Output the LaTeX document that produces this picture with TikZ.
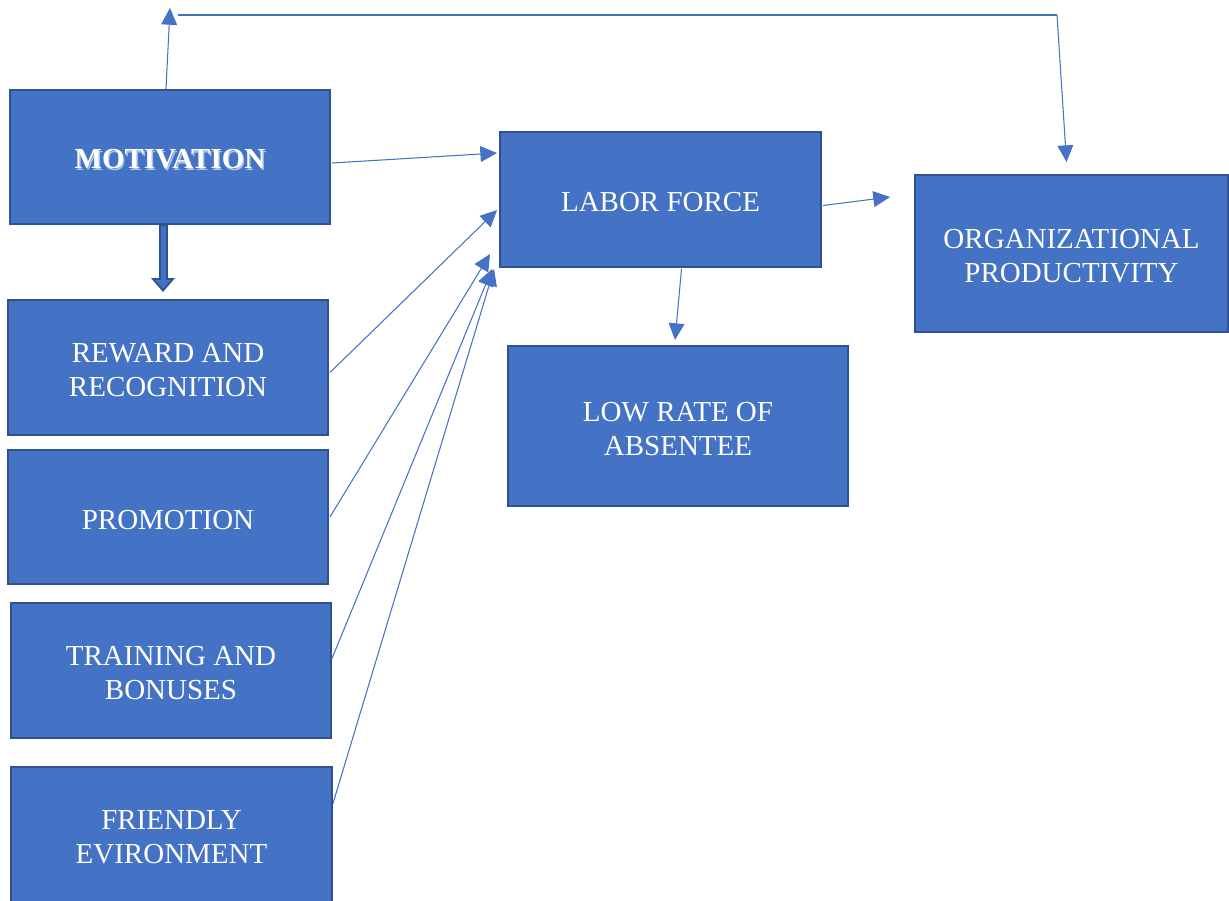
\documentclass[tikz,border=0pt]{standalone}
\usepackage{fontspec}
\setmainfont{Liberation Serif}
\usepackage{xcolor}
\usetikzlibrary{positioning, arrows.meta, calc}

\definecolor{boxfill}{HTML}{4472C4}
\definecolor{boxline}{HTML}{2F528F}
\definecolor{glow}{HTML}{A9C4EB}
\newcommand{\topstrut}{\rule{0pt}{14.3pt}}

\begin{document}
\begin{tikzpicture}[
    x=0.02cm, y=-0.02cm,
    box/.style={draw=boxline, fill=boxfill, line width=0.04cm, rectangle,
                inner sep=0pt, align=center, text=white,
                font=\fontsize{16.5}{19.3}\selectfont},
    arrow/.style={-{Triangle[length=9.5pt, width=9pt]}, boxfill, line width=0.6pt},
    link/.style={boxfill, line width=0.6pt}
]
\clip (0,0) rectangle (1229,900);
\useasboundingbox (0,0) rectangle (1229,900);
% Left column
\node[box, minimum width=6.4cm, minimum height=2.68cm] (motiv) at (170,157)
      {\topstrut\bfseries\rlap{\hspace{0.8pt}\raisebox{-0.8pt}{\color{glow}MOTIVATION}}MOTIVATION};
\node[box, minimum width=6.4cm, minimum height=2.7cm] (reward) at (168,367.5)
      {\topstrut REWARD AND \\ RECOGNITION};
\node[box, minimum width=6.4cm, minimum height=2.68cm] (promo) at (168,517)
      {\topstrut PROMOTION};
\node[box, minimum width=6.4cm, minimum height=2.7cm] (train) at (171,670.5)
      {\topstrut TRAINING AND \\ BONUSES};
\node[box, minimum width=6.42cm, minimum height=2.7cm] (friend) at (171.5,834.5)
      {\topstrut FRIENDLY \\ EVIRONMENT};
% Middle and right
\node[box, minimum width=6.42cm, minimum height=2.7cm] (labor) at (660.5,199.5)
      {\topstrut LABOR FORCE};
\node[box, minimum width=6.8cm, minimum height=3.2cm] (low) at (678,426)
      {\topstrut LOW RATE OF \\ ABSENTEE};
\node[box, minimum width=6.26cm, minimum height=3.14cm] (org) at (1071.5,253.5)
      {\topstrut ORGANIZATIONAL \\ PRODUCTIVITY};
% Feedback line over the top
\coordinate (topL) at (170,8);
\coordinate (topM) at (178,15);
\coordinate (topR) at (1057,15);
\draw[arrow] ($(motiv.north)+(-4,0)$) -- (topL);
\draw[link] (topM) -- (topR);
\draw[arrow] (topR) -- ($(org.north)+(-5,-12)$);
% Thick arrow down
\draw[boxline, line width=0.18cm, -{Triangle[length=0.28cm, width=0.46cm]}]
      ($(motiv.south)+(-7,0)$) -- ($(reward.north)+(-5,-7)$);
\draw[boxfill, line width=0.1cm, -{Triangle[length=0.18cm, width=0.3cm]}]
      ($(motiv.south)+(-7,1)$) -- ($(reward.north)+(-5,-10)$);
% Into labor force
\draw[arrow] ($(motiv.east)+(1,6)$) -- ($(labor.north west)+(-2,22)$);
\draw[arrow] ($(reward.east)+(1,5)$) -- ($(labor.north west)+(-2,79)$);
\draw[arrow] ($(promo.east)+(1,0)$) -- ($(labor.north west)+(-9,123)$);
\draw[arrow] ($(train.east)+(0,-12)$) -- ($(labor.south west)+(-7,1)$);
\draw[arrow] ($(friend.east)+(0,-31)$) -- ($(labor.south west)+(-5,1)$);
% Out of labor force
\draw[arrow] ($(labor.east)+(1,6)$) -- ($(org.west)+(-24,-56.5)$);
\draw[arrow] ($(labor.south)+(21,1)$) -- ($(low.north)+(-3,-5)$);
\end{tikzpicture}
\end{document}
